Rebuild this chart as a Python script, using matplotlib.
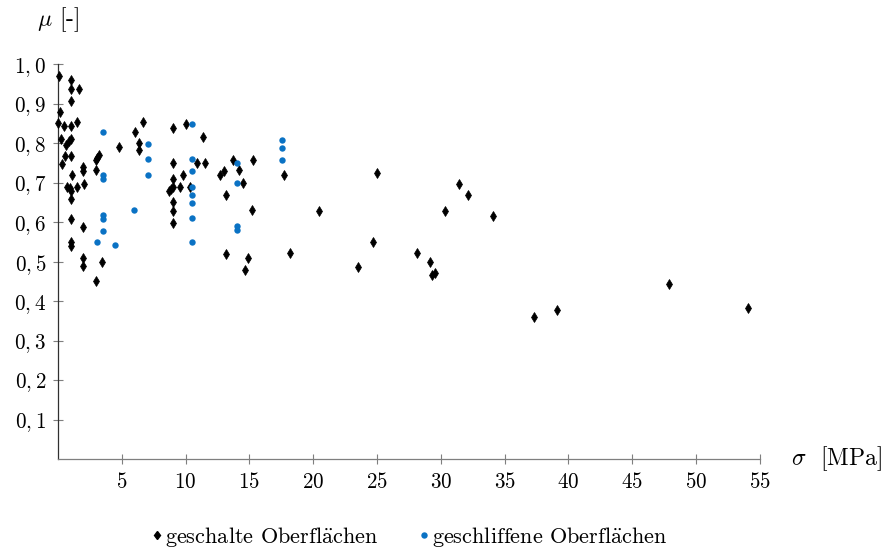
import numpy as np
import matplotlib
matplotlib.use("Agg")
import matplotlib.pyplot as plt
from matplotlib.lines import Line2D

plt.rcParams['font.family'] = ['cmr10', 'STIXGeneral', 'DejaVu Serif']
plt.rcParams['mathtext.fontset'] = 'cm'
plt.rcParams['axes.formatter.use_mathtext'] = True

# geschalte Oberflaechen (black diamonds)
sigma_geschalt = [0.05, 0.99, 0.99, 1.62, 0.99, 0.18, 0.0, 0.47, 0.99, 1.52,
                  0.26, 0.9, 0.99, 0.65, 0.52, 0.99, 0.34, 1.10, 0.73, 0.91,
                  0.99, 0.99, 1.49, 1.99, 1.99, 2.06, 0.99, 1.99, 0.99, 0.99,
                  1.99, 1.99, 3.0, 3.42, 2.95, 3.06, 3.19, 3.0, 4.78, 6.01,
                  6.64, 6.37, 6.37, 9.02, 10.02, 11.35, 9.02, 10.88, 11.5, 9.02,
                  9.83, 8.68, 8.84, 9.02, 9.57, 10.33, 9.02, 9.02, 9.02, 12.68,
                  13.05, 13.75, 14.17, 14.48, 15.27, 13.13, 15.24, 13.2, 14.9, 14.66,
                  17.7, 18.17, 25.0, 20.46, 24.67, 23.5, 31.43, 32.14, 30.37, 34.1,
                  28.17, 29.14, 29.35, 29.53, 37.31, 39.07, 47.89, 54.04]
mu_geschalt = [0.97, 0.961, 0.938, 0.939, 0.908, 0.879, 0.851, 0.844, 0.844, 0.853,
               0.81, 0.805, 0.812, 0.797, 0.769, 0.769, 0.748, 0.719, 0.689, 0.686,
               0.68, 0.658, 0.689, 0.741, 0.73, 0.698, 0.609, 0.589, 0.55, 0.54,
               0.509, 0.488, 0.45, 0.499, 0.759, 0.764, 0.77, 0.732, 0.79, 0.83,
               0.853, 0.802, 0.783, 0.839, 0.849, 0.816, 0.75, 0.75, 0.75, 0.71,
               0.719, 0.68, 0.685, 0.689, 0.689, 0.689, 0.651, 0.629, 0.599, 0.719,
               0.731, 0.757, 0.733, 0.70, 0.759, 0.67, 0.631, 0.52, 0.51, 0.48,
               0.72, 0.523, 0.725, 0.628, 0.551, 0.487, 0.697, 0.668, 0.629, 0.616,
               0.521, 0.498, 0.466, 0.472, 0.361, 0.377, 0.443, 0.382]

# geschliffene Oberflaechen (blue dots)
sigma_geschliffen = [3.5, 3.5, 3.5, 3.5, 3.5, 3.5, 3.06, 4.47, 5.93, 7.04,
                     7.04, 7.04, 10.51, 10.51, 10.51, 10.51, 10.51, 10.51, 10.51, 10.51,
                     14.01, 14.01, 14.01, 14.01, 17.54, 17.54, 17.54]
mu_geschliffen = [0.829, 0.72, 0.71, 0.619, 0.609, 0.579, 0.551, 0.542, 0.63, 0.799,
                  0.76, 0.719, 0.849, 0.76, 0.729, 0.689, 0.669, 0.65, 0.61, 0.549,
                  0.75, 0.70, 0.591, 0.58, 0.809, 0.789, 0.759]

x_ticks = [5, 10, 15, 20, 25, 30, 35, 40, 45, 50, 55]
y_ticks = [0.1, 0.2, 0.3, 0.4, 0.5, 0.6, 0.7, 0.8, 0.9, 1.0]
y_ticklabels = ['$0,1$', '$0,2$', '$0,3$', '$0,4$', '$0,5$',
                '$0,6$', '$0,7$', '$0,8$', '$0,9$', '$1,0$']

blue = '#0a72c4'
fs_tick = 15.2
fs_label = 17
fs_leg = 16

fig = plt.figure(figsize=(8.85, 5.49), dpi=100)
ax = fig.add_axes([0.0655, 0.164, 0.793, 0.7186])

ax.plot(sigma_geschalt, mu_geschalt, 'd', color='black', ms=5.2, mec='black',
        mew=0.5, clip_on=False, zorder=3)
ax.plot(sigma_geschliffen, mu_geschliffen, 'o', color=blue, ms=4.6, mec=blue,
        mew=0, clip_on=False, zorder=3)

ax.set_xlim(0, 55)
ax.set_ylim(0, 1.0)
ax.set_xticks(x_ticks)
ax.set_xticklabels(['$%d$' % t for t in x_ticks])
ax.set_yticks(y_ticks)
ax.set_yticklabels(y_ticklabels)

for s in ['top', 'right']:
    ax.spines[s].set_visible(False)
ax.spines['left'].set_color('#303030')
ax.spines['bottom'].set_color('#7f7f7f')
ax.spines['left'].set_linewidth(0.9)
ax.spines['bottom'].set_linewidth(0.9)
ax.tick_params(axis='both', direction='inout', length=7, width=0.8,
               color='#7f7f7f', labelsize=fs_tick)
ax.tick_params(axis='x', pad=6)
ax.tick_params(axis='y', pad=5)

fig.text(58 / 885, 1 - 20 / 549, r'$\mu$ [-]', fontsize=fs_label,
         ha='center', va='center')
fig.text(882 / 885, 1 - 459 / 549, r'$\sigma$  [MPa]', fontsize=fs_label,
         ha='right', va='center')

handles = [Line2D([], [], ls='', marker='d', color='black', ms=4.5),
           Line2D([], [], ls='', marker='o', color=blue, mew=0, ms=4.6)]
labels = [r'geschalte Oberfl$\mathrm{\ddot{a}}$chen',
          r'geschliffene Oberfl$\mathrm{\ddot{a}}$chen']
fig.legend(handles, labels, loc='center', bbox_to_anchor=(410 / 885, 1 - 537 / 549),
           ncol=2, frameon=False, fontsize=fs_leg, handlelength=0.4,
           handletextpad=0.15, columnspacing=1.9)

fig.savefig('out.png', dpi=100)
